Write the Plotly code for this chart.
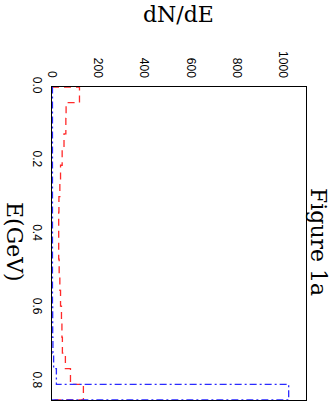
import plotly.graph_objects as go

# bin edges of the energy histogram (GeV)
E_EDGES = [0.0, 0.0425, 0.085, 0.1275, 0.17, 0.2125, 0.255, 0.2975, 0.34, 0.3825,
           0.425, 0.4675, 0.51, 0.5525, 0.595, 0.6375, 0.68, 0.7225, 0.765, 0.8075, 0.85]

# dN/dE per bin
RED_COUNTS = [119, 61, 60, 52, 44, 37, 34, 30, 29, 29,
              29, 31, 34, 37, 41, 43, 45, 58, 80, 136]
BLUE_COUNTS = [2, 2, 2, 2, 2, 2, 2, 2, 2, 2,
               2, 2, 2, 2, 3, 3, 4, 7, 19, 1025]

X_TICKS = [0, 200, 400, 600, 800, 1000]
Y_TICKS = [0.0, 0.2, 0.4, 0.6, 0.8]

SERIF = "DejaVu Serif"
SANS = "Liberation Sans"

# plot box in page pixels
L, R, T, B = 52, 306, 87, 400
W, H = 333, 402


def step_path(counts):
    # horizontal-then-vertical steps, E running down the page
    xs = [0] + list(counts) + [0]
    ys = [E_EDGES[0]] + E_EDGES[1:] + [E_EDGES[-1]]
    return xs, ys


def page_label(text, px, py, angle=0):
    fig.add_annotation(
        text=text, textangle=angle, showarrow=False,
        xref="paper", yref="paper", xanchor="center", yanchor="middle",
        x=(px - L) / (R - L), y=(B - py) / (B - T),
        font=dict(family=SERIF, size=22, color="black"),
    )


fig = go.Figure()

xr, yr = step_path(RED_COUNTS)
fig.add_trace(go.Scatter(
    x=xr, y=yr, mode="lines", line_shape="hv",
    line=dict(color="#ff2a2a", width=1.3, dash="7px,5px"),
    showlegend=False,
))

xb, yb = step_path(BLUE_COUNTS)
fig.add_trace(go.Scatter(
    x=xb, y=yb, mode="lines", line_shape="hv",
    line=dict(color="#2a2aff", width=1.3, dash="7px,3px,2px,3px"),
    showlegend=False,
))

fig.update_xaxes(
    side="top", range=[0, 1100], tickvals=X_TICKS, tickangle=90,
    showgrid=False, zeroline=False, showline=True, mirror=True, automargin=False,
    linecolor="black", linewidth=1, ticks="outside", ticklen=4,
    tickcolor="rgba(0,0,0,0)", tickfont=dict(family=SANS, size=12, color="black"),
)
fig.update_yaxes(
    range=[0.85, 0], tickvals=Y_TICKS, ticktext=["0.0", "0.2", "0.4", "0.6", "0.8"],
    tickangle=90, showgrid=False, zeroline=False, showline=True, mirror=True,
    automargin=False, linecolor="black", linewidth=1, ticks="outside", ticklen=4,
    tickcolor="rgba(0,0,0,0)", tickfont=dict(family=SANS, size=12, color="black"),
)

page_label("dN/dE", 178, 15)
page_label("E(GeV)", 15, 242, 90)
page_label("Figure 1a", 319, 242, 90)

fig.update_layout(
    width=W, height=H,
    margin=dict(l=L, r=W - R, t=T, b=H - B),
    paper_bgcolor="white", plot_bgcolor="white",
)

fig.write_html(
    "out.html",
    config={"displayModeBar": False},
    post_script="document.body.style.margin = '0';",
)
